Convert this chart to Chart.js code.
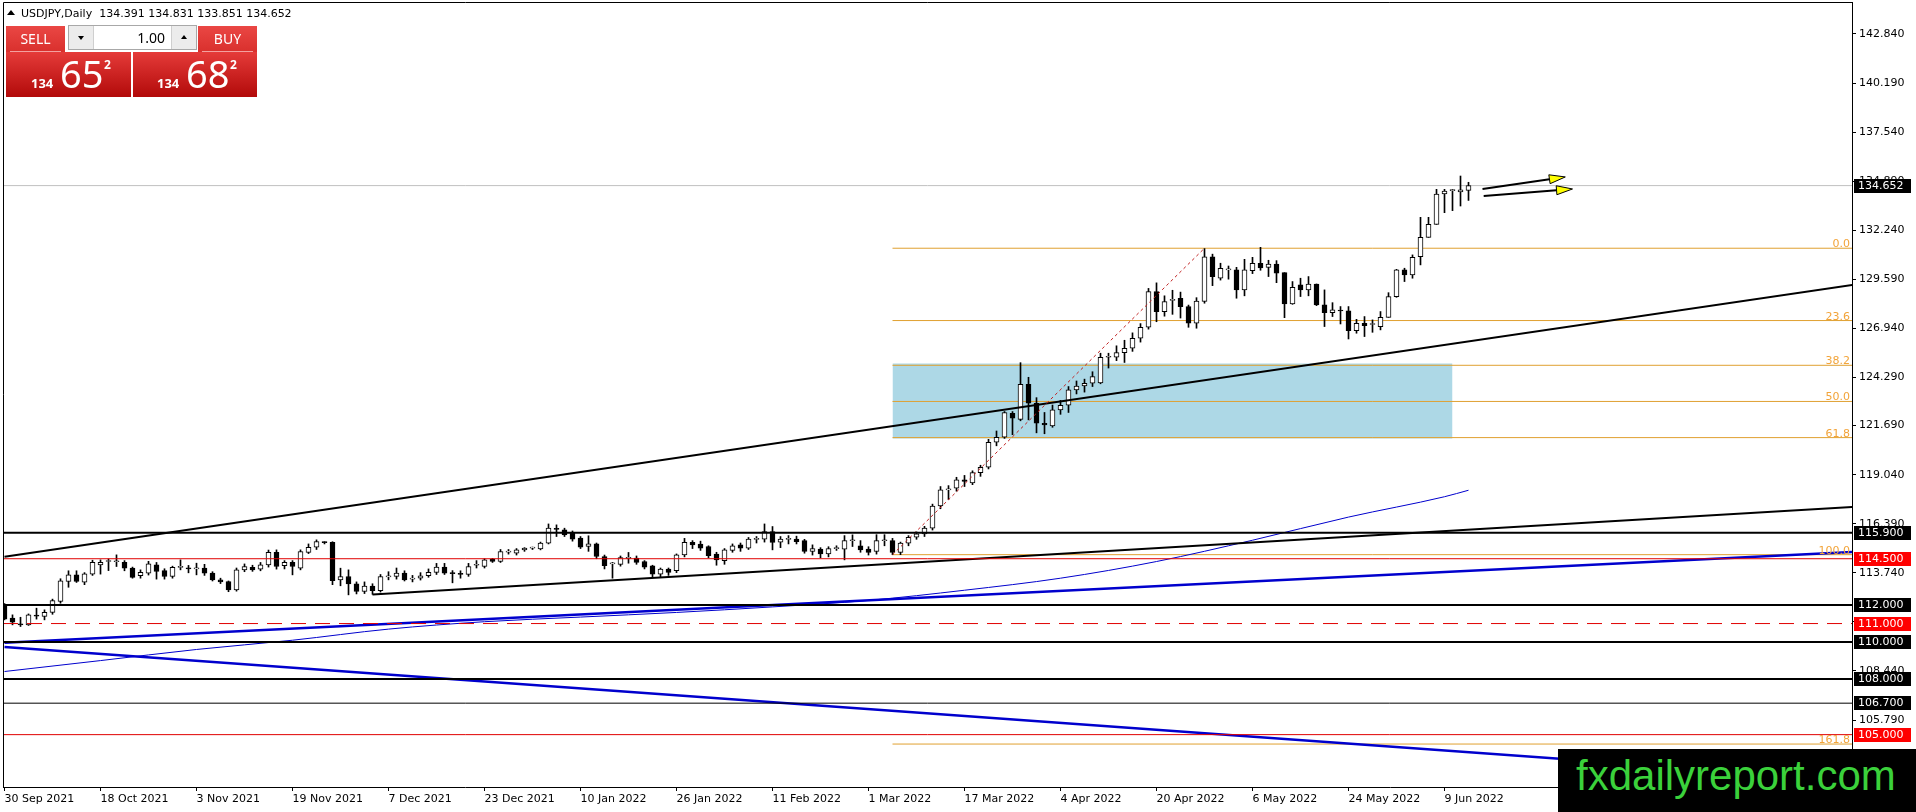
<!DOCTYPE html>
<html>
<head>
<meta charset="utf-8">
<title>USDJPY Daily</title>
<script src="https://cdn.jsdelivr.net/npm/chart.js@4.4.1/dist/chart.umd.min.js"></script>
<style>
  html, body { margin: 0; padding: 0; background: #fff; }
  #wrap { position: relative; width: 1916px; height: 812px; overflow: hidden; font-family: "DejaVu Sans", sans-serif; }
  #chart { position: absolute; left: 0; top: 0; }
  .abs { position: absolute; white-space: pre; }
  #title { left: 21px; top: 8px; font-size: 11px; line-height: 11px; color: #000; }
  #tri { position: absolute; left: 7px; top: 10px; width: 0; height: 0; border-left: 4px solid transparent; border-right: 4px solid transparent; border-bottom: 5px solid #000; }
  .side { position: absolute; top: 26px; width: 59px; height: 26px; background: linear-gradient(#ea4744, #d9302d); color: #fff; font: 14px "Noto Sans", sans-serif; line-height: 26px; text-align: center; }
  .side::after { content: ""; position: absolute; left: 4px; right: 4px; bottom: 0; height: 1px; background: #f3a19f; }
  #spin { position: absolute; left: 68px; top: 25px; width: 127px; height: 23px; border: 1px solid #a8a8a8; background: #fff; }
  #spin .cell { position: absolute; top: 0; width: 24px; height: 23px; background: #ececec; }
  #spin .val { position: absolute; right: 31px; top: 0; font: 14px "Noto Sans", sans-serif; line-height: 23px; color: #000; }
  .dn { position: absolute; left: 9px; top: 10px; width: 0; height: 0; border-left: 3px solid transparent; border-right: 3px solid transparent; border-top: 4px solid #000; }
  .up { position: absolute; left: 9px; top: 9px; width: 0; height: 0; border-left: 3px solid transparent; border-right: 3px solid transparent; border-bottom: 4px solid #000; }
  .quote { position: absolute; top: 52px; height: 45px; background: linear-gradient(#e53b39, #b20a0a); color: #fff; font-family: "Noto Sans", sans-serif; }
  .quote span { position: absolute; white-space: pre; }
  .q-small { font-size: 13px; line-height: 13px; font-weight: bold; top: 25px; }
  .q-big { font-size: 38px; line-height: 38px; top: 2px; }
  .q-sup { font-size: 12px; line-height: 12px; font-weight: bold; top: 7px; }
  #mark { position: absolute; left: 1558px; top: 749px; width: 358px; height: 63px; background: #000; }
  #mark span { position: absolute; left: 18px; top: 6px; font: 42px "Liberation Sans", Arial, sans-serif; line-height: 42px; color: #3bd13b; white-space: pre; }
</style>
</head>
<body>
<div id="wrap">
  <canvas id="chart" width="1916" height="812"></canvas>

  <div id="tri"></div>
  <div class="abs" id="title">USDJPY,Daily  134.391 134.831 133.851 134.652</div>

  <div class="side" style="left:6px">SELL</div>
  <div id="spin">
    <div class="cell" style="left:0;border-right:1px solid #cfcfcf"><div class="dn"></div></div>
    <div class="val">1.00</div>
    <div class="cell" style="right:0;border-left:1px solid #cfcfcf"><div class="up"></div></div>
  </div>
  <div class="side" style="left:198px">BUY</div>

  <div class="quote" style="left:6px;width:125px">
    <span class="q-small" style="left:25px">134</span><span class="q-big" style="left:54px">65</span><span class="q-sup" style="left:98px">2</span>
  </div>
  <div class="quote" style="left:133px;width:124px">
    <span class="q-small" style="left:24px">134</span><span class="q-big" style="left:53px">68</span><span class="q-sup" style="left:97px">2</span>
  </div>

  <div id="mark"><span>fxdailyreport.com</span></div>
</div>

<script>
// daily bars, 30 Sep 2021 .. 14 Jun 2022 (bar index = position on the time axis)
const openP = [
  112.01,111.29,110.98,110.93,111.42,111.38,111.60,112.19,113.27,113.63,113.23,113.67,114.17,114.35,114.34,114.31,113.99,113.58,113.72,114.17,
  113.86,113.54,114.03,113.96,113.95,113.99,113.72,113.36,113.27,112.82,113.90,114.04,113.94,114.17,114.84,114.12,114.30,113.99,114.84,115.12,
  115.38,115.38,113.36,113.54,113.14,112.73,113.02,112.78,113.52,113.54,113.72,113.40,113.45,113.58,113.76,114.05,113.72,113.68,113.66,114.15,
  114.08,114.48,114.35,114.86,114.80,114.98,115.07,115.03,115.34,116.10,116.06,115.88,115.61,115.16,115.30,114.62,114.22,114.20,114.52,114.53,
  114.35,114.12,113.67,113.94,113.85,114.71,115.38,115.29,115.16,114.75,114.40,114.95,115.25,115.07,115.55,115.56,115.97,115.40,115.55,115.56,
  115.48,114.89,115.02,114.76,115.05,115.02,115.47,115.20,115.02,114.89,115.47,115.48,114.84,115.34,115.66,115.84,116.15,117.35,118.22,118.31,
  118.76,118.60,119.15,119.44,120.79,121.06,122.35,122.03,123.92,122.90,121.82,121.67,122.54,122.80,123.62,123.83,123.98,124.00,125.38,125.38,
  125.63,125.87,126.41,127.00,128.93,127.85,128.45,128.57,128.12,127.22,128.40,130.80,129.65,130.10,130.10,129.02,130.06,130.46,130.24,130.42,
  129.95,128.26,129.29,129.02,129.34,128.21,127.79,127.92,127.89,126.82,127.22,127.15,127.04,127.54,128.66,130.10,129.83,130.82,131.86,132.56,
  134.20,134.38,134.31,134.391
];
const highP = [
  112.08,111.47,111.34,111.52,111.83,111.74,112.32,113.42,113.85,113.85,113.75,114.42,114.44,114.49,114.71,114.40,114.05,113.90,114.36,114.30,
  113.96,114.10,114.44,114.14,114.26,114.20,113.80,113.45,113.30,114.00,114.22,114.15,114.30,114.97,114.98,114.40,114.40,114.98,115.30,115.52,
  115.42,115.42,113.99,113.90,113.25,113.25,113.15,113.65,113.80,114.00,113.85,113.60,113.75,113.95,114.25,114.25,113.86,113.85,114.25,114.40,
  114.50,114.52,115.00,115.00,115.05,115.10,115.13,115.40,116.38,116.33,116.15,116.00,115.70,115.74,115.35,114.70,114.30,114.65,114.84,114.65,
  114.40,114.15,114.00,114.00,114.76,115.60,115.48,115.45,115.20,114.85,115.05,115.30,115.35,115.65,115.70,116.38,116.24,115.70,115.75,115.72,
  115.55,115.25,115.10,115.15,115.20,115.75,115.79,115.48,115.15,115.80,115.80,115.60,115.40,115.75,115.95,116.25,117.45,118.40,118.45,118.90,
  119.00,119.25,119.55,120.95,121.40,122.45,122.45,125.09,124.30,123.20,122.40,122.80,123.05,123.80,124.10,124.20,124.60,125.60,125.60,126.00,
  126.30,126.70,127.20,129.10,129.40,128.70,129.00,128.90,128.20,128.60,131.25,130.95,130.46,130.31,130.24,130.67,130.78,131.32,130.62,130.60,
  129.95,129.47,129.65,129.74,129.34,129.02,128.33,128.12,128.12,127.43,127.58,127.40,127.85,128.87,130.13,130.19,130.91,132.94,132.94,134.45,
  134.45,134.45,135.17,134.831
];
const lowP = [
  111.20,110.93,110.84,110.90,111.24,111.20,111.50,112.10,112.96,113.22,113.10,113.60,113.67,113.86,114.08,113.85,113.45,113.45,113.62,113.40,
  113.40,113.45,113.90,113.74,113.63,113.60,113.30,113.16,112.72,112.75,113.80,113.82,113.85,114.05,113.94,113.95,113.63,113.90,114.78,115.00,
  115.30,113.10,113.04,112.55,112.60,112.62,112.58,112.70,113.36,113.40,113.30,113.25,113.35,113.50,113.65,113.65,113.20,113.45,113.55,114.00,
  114.00,114.30,114.30,114.75,114.70,114.90,115.00,114.98,115.30,115.70,115.70,115.45,115.05,114.90,114.50,113.95,113.45,114.10,114.26,114.20,
  113.95,113.50,113.52,113.60,113.75,114.60,115.05,114.95,114.55,114.15,114.20,114.85,114.90,115.00,115.35,115.40,114.98,115.10,115.30,115.30,
  114.80,114.70,114.55,114.60,114.95,114.44,115.16,114.85,114.70,114.75,115.20,114.72,114.72,115.20,115.55,115.70,116.05,117.20,117.70,118.15,
  118.40,118.50,118.95,119.35,120.60,121.00,121.20,121.95,122.00,121.30,121.25,121.60,122.30,122.40,123.40,123.50,123.80,123.95,124.80,125.20,
  125.10,125.70,126.20,126.90,127.30,127.60,127.70,127.50,127.00,126.95,128.30,129.25,129.55,129.60,128.57,128.70,129.90,130.08,129.74,129.41,
  127.52,128.24,128.66,128.70,128.17,127.04,127.58,127.18,126.37,126.68,126.50,126.73,126.86,127.54,128.62,129.47,129.65,130.37,131.86,132.56,
  133.19,133.30,133.55,133.851
];
const closeP = [
  111.24,111.07,110.93,111.47,111.40,111.61,112.24,113.31,113.63,113.27,113.68,114.31,114.31,114.36,114.35,113.99,113.49,113.76,114.22,113.81,
  113.54,114.04,114.05,113.95,113.98,113.72,113.36,113.25,112.82,113.90,114.08,113.90,114.17,114.84,114.08,114.30,114.08,114.89,115.12,115.43,
  115.37,113.32,113.54,113.14,112.73,113.02,112.78,113.54,113.56,113.72,113.36,113.42,113.58,113.76,114.05,113.72,113.70,113.66,114.08,114.18,
  114.44,114.35,114.89,114.88,114.98,115.07,115.08,115.34,116.15,116.09,115.79,115.56,115.12,115.30,114.62,114.12,114.25,114.56,114.53,114.30,
  114.04,113.67,113.94,113.76,114.71,115.38,115.25,115.07,114.66,114.44,114.98,115.20,115.07,115.56,115.56,115.97,115.38,115.56,115.57,115.42,
  114.89,115.05,114.76,115.05,115.06,115.48,115.48,114.98,114.84,115.48,115.49,114.84,115.34,115.66,115.84,116.15,117.35,118.22,118.25,118.76,
  118.67,119.15,119.44,120.79,121.06,122.39,122.09,123.92,122.90,121.82,121.73,122.54,122.79,123.62,123.83,123.98,124.34,125.38,125.40,125.63,
  125.87,126.41,127.00,128.93,127.85,128.39,128.48,128.12,127.22,128.42,130.80,129.74,130.19,130.13,129.02,130.10,130.46,130.20,130.42,129.92,
  128.26,129.16,129.02,129.34,128.21,127.79,127.94,127.88,126.82,127.22,127.09,127.18,127.54,128.66,130.10,129.83,130.78,131.86,132.56,134.20,
  134.35,134.38,134.42,134.652
];

// time axis labels (one every 12 bars)
const tickBars = [0, 12, 24, 36, 48, 60, 72, 84, 96, 108, 120, 132, 144, 156, 168, 180];
const tickLabels = ['30 Sep 2021', '18 Oct 2021', '3 Nov 2021', '19 Nov 2021', '7 Dec 2021', '23 Dec 2021', '10 Jan 2022', '26 Jan 2022',
  '11 Feb 2022', '1 Mar 2022', '17 Mar 2022', '4 Apr 2022', '20 Apr 2022', '6 May 2022', '24 May 2022', '9 Jun 2022'];
// price axis labels
const priceTicks = [142.84, 140.19, 137.54, 134.89, 132.24, 129.59, 126.94, 124.29, 121.69, 119.04, 116.39, 113.74, 111.09, 108.44, 105.79];

// moving average
const maBars = [0, 12, 24, 36, 48, 60, 72, 84, 96, 108, 120, 132, 144, 156, 168, 180, 183];
const maValues = [108.41, 109.0, 109.6, 110.1, 110.7, 111.1, 111.35, 111.6, 111.9, 112.25, 112.8, 113.45, 114.35, 115.5, 116.75, 117.85, 118.2];

// horizontal levels
const blackLevels = [115.9, 112.0, 110.0, 108.0];
const thinBlackLevels = [106.7];
const redLevels = [114.5, 105.0];
const dashedRedLevels = [111.0];
const lastPrice = 134.652;
const tagBlack = [134.652, 115.9, 112.0, 110.0, 108.0, 106.7];
const tagRed = [114.5, 111.0, 105.0];

// trend lines [bar, price]
const upperTrend = [[0, 114.61], [231, 129.29]];
const lowerTrend = [[46, 112.57], [231, 117.30]];
const blueRising = [[0, 109.96], [231, 114.87]];
const blueFalling = [[0, 109.74], [231, 102.56]];

// fibonacci retracement
const fibLowBar = 111, fibHighBar = 150;
const fibLow = 114.72, fibHigh = 131.27;
const fibRatios = [0, 23.6, 38.2, 50, 61.8, 100, 161.8];
const fibNames = ['0.0', '23.6', '38.2', '50.0', '61.8', '100.0', '161.8'];

// shaded zone
const zoneBars = [111, 181];
const zonePrices = [125.05, 121.0];

// arrows [start bar, start price, end bar, end price]
const arrowsFrom = [[184.75, 134.47], [184.9, 134.09]];
const arrowsTo = [[195.1, 135.12], [196.0, 134.47]];

const XMIN = -0.1875, XMAX = 230.9375;
const YMIN = 102.173, YMAX = 144.568;
const FONT = '"DejaVu Sans", sans-serif';
Chart.defaults.font.family = FONT;
Chart.defaults.font.size = 11;
Chart.defaults.color = '#000';

const pt = (p) => ({ x: p[0], y: p[1] });
const hline = (price) => [{ x: XMIN, y: price }, { x: XMAX, y: price }];
const fibPrice = (r) => fibHigh - (fibHigh - fibLow) * r / 100;

function lineSet(data, color, width, dash, order) {
  return { type: 'line', data, borderColor: color, borderWidth: width, borderDash: dash || [],
    pointRadius: 0, fill: false, tension: 0, order: order == null ? 1 : order };
}

const datasets = [];
// zone
datasets.push({ type: 'line', data: [{ x: zoneBars[0], y: zonePrices[0] }, { x: zoneBars[1], y: zonePrices[0] }],
  borderColor: 'rgba(0,0,0,0)', borderWidth: 1, pointRadius: 0, backgroundColor: '#add8e6',
  fill: { value: zonePrices[1] }, order: 20 });
// candles
datasets.push({ type: 'bar', data: lowP.map((l, i) => ({ x: i, y: [l, highP[i]] })),
  backgroundColor: '#000', barThickness: 1, grouped: false, order: 6 });
datasets.push({ type: 'bar', data: openP.map((o, i) => ({ x: i, y: [o, closeP[i]] })),
  backgroundColor: openP.map((o, i) => closeP[i] >= o ? '#ffffff' : '#000000'),
  borderColor: '#000', borderWidth: 1, borderSkipped: false, barThickness: 5, minBarLength: 1, grouped: false, order: 5 });
// levels
blackLevels.forEach(p => datasets.push(lineSet(hline(p), '#000', 2)));
thinBlackLevels.forEach(p => datasets.push(lineSet(hline(p), '#000', 1)));
redLevels.forEach(p => datasets.push(lineSet(hline(p), '#e00000', 1)));
dashedRedLevels.forEach(p => datasets.push(lineSet(hline(p), '#e00000', 1, [15, 9])));
datasets.push(lineSet(hline(lastPrice), '#c0c0c0', 1, null, 8));
// fibonacci
fibRatios.forEach(r => datasets.push(lineSet([{ x: fibLowBar, y: fibPrice(r) }, { x: XMAX, y: fibPrice(r) }], '#e0a030', 1, null, 7)));
datasets.push(lineSet([{ x: fibLowBar, y: fibLow }, { x: fibHighBar, y: fibHigh }], '#c02020', 1, [3, 3]));
// moving average and trend lines
datasets.push({ type: 'line', data: maBars.map((b, k) => ({ x: b, y: maValues[k] })), borderColor: '#0000cd', borderWidth: 1,
  pointRadius: 0, fill: false, cubicInterpolationMode: 'monotone', order: 2 });
datasets.push(lineSet(blueRising.map(pt), '#0000cd', 2.5));
datasets.push(lineSet(blueFalling.map(pt), '#0000cd', 2.5));
datasets.push(lineSet(upperTrend.map(pt), '#000', 2));
datasets.push(lineSet(lowerTrend.map(pt), '#000', 2));

const overlay = {
  id: 'overlay',
  afterDraw(chart) {
    const { ctx, chartArea: a, scales: { x, y } } = chart;
    ctx.save();
    // frame left / top
    ctx.strokeStyle = '#000';
    ctx.lineWidth = 1;
    ctx.beginPath();
    ctx.moveTo(a.left + 0.5, a.bottom);
    ctx.lineTo(a.left + 0.5, a.top + 0.5);
    ctx.lineTo(a.right, a.top + 0.5);
    ctx.stroke();

    // fib level names
    ctx.font = '11px ' + FONT;
    ctx.fillStyle = '#f2a43a';
    ctx.textAlign = 'right';
    ctx.textBaseline = 'alphabetic';
    fibRatios.forEach((r, k) => ctx.fillText(fibNames[k], a.right - 2, Math.round(y.getPixelForValue(fibPrice(r))) - 1));

    // arrows
    arrowsFrom.forEach((f, k) => {
      const x0 = x.getPixelForValue(f[0]), y0 = y.getPixelForValue(f[1]);
      const x1 = x.getPixelForValue(arrowsTo[k][0]), y1 = y.getPixelForValue(arrowsTo[k][1]);
      const ang = Math.atan2(y1 - y0, x1 - x0);
      const len = 16, half = 4.5;
      const bx = x1 - len * Math.cos(ang), by = y1 - len * Math.sin(ang);
      ctx.strokeStyle = '#000';
      ctx.lineWidth = 2;
      ctx.beginPath(); ctx.moveTo(x0, y0); ctx.lineTo(bx, by); ctx.stroke();
      ctx.beginPath();
      ctx.moveTo(x1, y1);
      ctx.lineTo(bx + half * Math.sin(ang), by - half * Math.cos(ang));
      ctx.lineTo(bx - half * Math.sin(ang), by + half * Math.cos(ang));
      ctx.closePath();
      ctx.fillStyle = '#ffff00';
      ctx.fill();
      ctx.lineWidth = 1;
      ctx.stroke();
    });

    // price tags on the axis
    ctx.textAlign = 'left';
    ctx.textBaseline = 'middle';
    const tag = (p, bg) => {
      const py = Math.round(y.getPixelForValue(p));
      ctx.fillStyle = bg;
      ctx.fillRect(a.right + 2, py - 7, 57, 14);
      ctx.fillStyle = '#fff';
      ctx.fillText(p.toFixed(3), a.right + 6, py);
    };
    tagBlack.forEach(p => tag(p, '#000'));
    tagRed.forEach(p => tag(p, '#ff0000'));
    ctx.restore();
  }
};

new Chart(document.getElementById('chart'), {
  type: 'bar',
  data: { datasets },
  options: {
    responsive: false,
    animation: false,
    devicePixelRatio: 1,
    events: [],
    layout: { padding: { left: 3, top: 2, right: 0, bottom: 0 } },
    plugins: { legend: { display: false }, tooltip: { enabled: false } },
    scales: {
      x: {
        type: 'linear', min: XMIN, max: XMAX, offset: false,
        grid: { display: true, drawOnChartArea: false, drawTicks: true, tickLength: 4, color: '#000', offset: false },
        border: { display: true, color: '#000' },
        ticks: { autoSkip: false, maxRotation: 0, align: 'start', padding: 2, color: '#000',
          callback: (v, i) => tickLabels[i] },
        afterBuildTicks: (s) => { s.ticks = tickBars.map(v => ({ value: v })); },
        afterFit: (s) => { s.height = 25; s.paddingLeft = 0; s.paddingRight = 0; }
      },
      y: {
        position: 'right', min: YMIN, max: YMAX,
        grid: { drawOnChartArea: false, drawTicks: true, tickLength: 4, color: '#000' },
        border: { display: true, color: '#000' },
        ticks: { padding: 3, color: '#000', callback: (v) => Number(v).toFixed(3) },
        afterBuildTicks: (s) => { s.ticks = priceTicks.map(v => ({ value: v })); },
        afterFit: (s) => { s.width = 64; s.paddingTop = 0; s.paddingBottom = 0; }
      }
    }
  },
  plugins: [overlay]
});
</script>
</body>
</html>
